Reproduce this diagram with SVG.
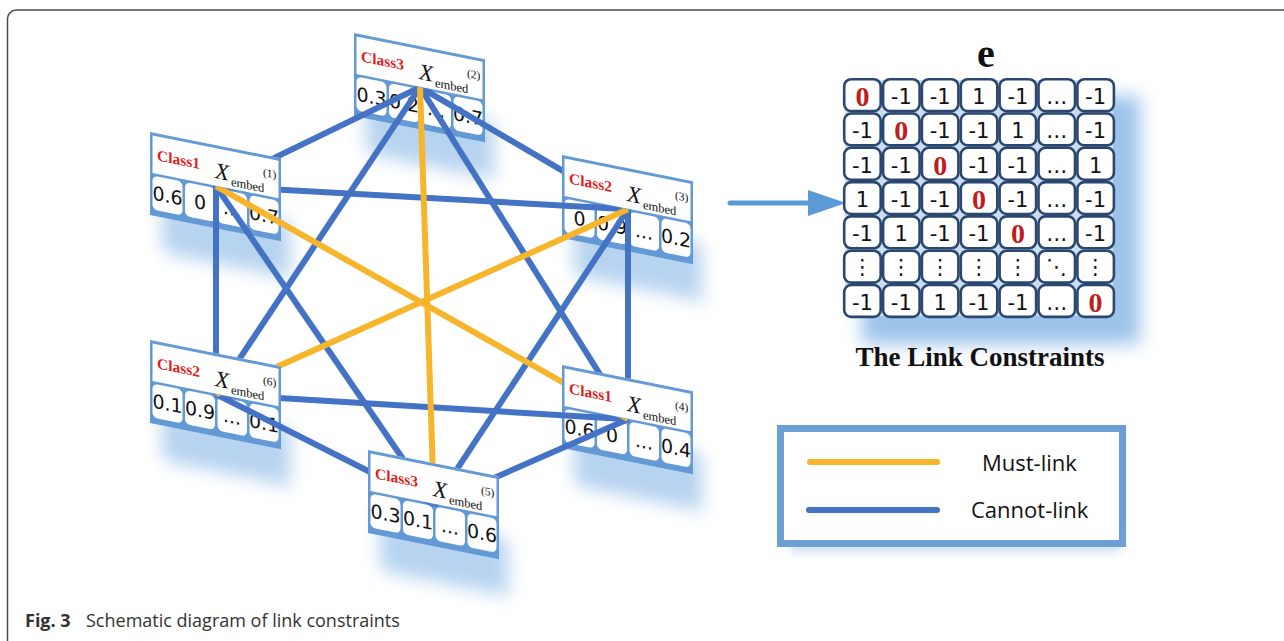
<svg xmlns="http://www.w3.org/2000/svg" width="1284" height="641" viewBox="0 0 1284 641">
<style>
.frame{fill:none;stroke:#4a4a4a;stroke-width:1.5}
.cbody{fill:#6399d4}
.chead{fill:#ffffff}
.ccell{fill:#ffffff}
.cls{font-family:"Liberation Serif","Times New Roman",serif;font-weight:bold;font-size:15.5px;fill:#e01f1f}
.xe{font-family:"Liberation Serif","Times New Roman",serif;font-style:italic;font-size:23px;fill:#111}
.sub{font-family:"Liberation Serif","Times New Roman",serif;font-size:12.5px;fill:#111}
.sup{font-family:"Liberation Serif","Times New Roman",serif;font-size:11.5px;fill:#111}
.num{font-family:"DejaVu Sans",sans-serif;font-size:19px;fill:#111;text-anchor:middle}
.shadow{fill:#86b6e6;opacity:0.6}
.must{stroke:#f7b52c;stroke-width:6;fill:none}
.cannot{stroke:#4472c4;stroke-width:6;fill:none}
.mcell{fill:#ffffff;stroke:#2b4770;stroke-width:2.6}
.mt{font-family:"DejaVu Sans",sans-serif;font-size:21px;fill:#111;text-anchor:middle}
.mz{font-family:"Liberation Serif","Times New Roman",serif;font-weight:bold;font-size:28px;fill:#bf1e1e;text-anchor:middle}
.leg{font-family:"Open Sans","Noto Sans",sans-serif;font-size:22px;fill:#111}
.ttl{font-family:"Liberation Serif","Times New Roman",serif;font-weight:bold;fill:#111;text-anchor:middle}
.cap{font-family:"Open Sans","Noto Sans",sans-serif;font-size:18px;fill:#333}
</style>
<defs>
<filter id="blur" x="-50%" y="-50%" width="200%" height="200%"><feGaussianBlur stdDeviation="9"/></filter>
<filter id="blur2" x="-50%" y="-50%" width="200%" height="200%"><feGaussianBlur stdDeviation="5"/></filter>
<g id="cardbase">
<rect class="shadow" x="12" y="60" width="128" height="58" filter="url(#blur)"/>
<rect class="cbody" x="0" y="0" width="131" height="83"/>
<rect class="chead" x="2.5" y="3" width="126" height="37.5"/>
<rect class="ccell" x="2.5" y="43" width="30" height="34" rx="5"/>
<rect class="ccell" x="35" y="43" width="30" height="34" rx="5"/>
<rect class="ccell" x="67.5" y="43" width="29.5" height="34" rx="5"/>
<rect class="ccell" x="99.5" y="43" width="29" height="34" rx="5"/>
</g>
<mask id="hdrmask" maskUnits="userSpaceOnUse" x="0" y="0" width="1284" height="641">
<rect x="0" y="0" width="1284" height="641" fill="#fff"/>
<g fill="#000">
<polygon points="150,132 281,158.2 281,199.2 150,173"/>
<polygon points="354,33 485,59.2 485,100.2 354,74"/>
<polygon points="562,155 693,181.2 693,222.2 562,196"/>
<polygon points="562,365 693,391.2 693,432.2 562,406"/>
<polygon points="368,450 499,476.2 499,517.2 368,491"/>
<polygon points="150,340 281,366.2 281,407.2 150,381"/>
</g>
</mask>
</defs>
<rect class="frame" x="7.5" y="10" width="1300" height="650" rx="9"/>

<g id="node1" transform="translate(150,132) skewY(11.31)">
<use href="#cardbase"/>
<text class="cls" x="7" y="27">Class1</text>
<text class="xe" x="65" y="33">X</text><text class="sub" x="81" y="37.5">embed</text><text class="sup" x="113" y="21.5">(1)</text>
<text class="num" x="17.5" y="67">0.6</text><text class="num" x="50" y="67">0</text><text class="num" x="82" y="67">...</text><text class="num" x="114" y="67">0.7</text>
</g>
<g id="node2" transform="translate(354,33) skewY(11.31)">
<use href="#cardbase"/>
<text class="cls" x="7" y="27">Class3</text>
<text class="xe" x="65" y="33">X</text><text class="sub" x="81" y="37.5">embed</text><text class="sup" x="113" y="21.5">(2)</text>
<text class="num" x="17.5" y="67">0.3</text><text class="num" x="50" y="67">0.2</text><text class="num" x="82" y="67">...</text><text class="num" x="114" y="67">0.7</text>
</g>
<g id="node3" transform="translate(562,155) skewY(11.31)">
<use href="#cardbase"/>
<text class="cls" x="7" y="27">Class2</text>
<text class="xe" x="65" y="33">X</text><text class="sub" x="81" y="37.5">embed</text><text class="sup" x="113" y="21.5">(3)</text>
<text class="num" x="17.5" y="67">0</text><text class="num" x="50" y="67">0.9</text><text class="num" x="82" y="67">...</text><text class="num" x="114" y="67">0.2</text>
</g>
<g id="node4" transform="translate(562,365) skewY(11.31)">
<use href="#cardbase"/>
<text class="cls" x="7" y="27">Class1</text>
<text class="xe" x="65" y="33">X</text><text class="sub" x="81" y="37.5">embed</text><text class="sup" x="113" y="21.5">(4)</text>
<text class="num" x="17.5" y="67">0.6</text><text class="num" x="50" y="67">0</text><text class="num" x="82" y="67">...</text><text class="num" x="114" y="67">0.4</text>
</g>
<g id="node6" transform="translate(150,340) skewY(11.31)">
<use href="#cardbase"/>
<text class="cls" x="7" y="27">Class2</text>
<text class="xe" x="65" y="33">X</text><text class="sub" x="81" y="37.5">embed</text><text class="sup" x="113" y="21.5">(6)</text>
<text class="num" x="17.5" y="67">0.1</text><text class="num" x="50" y="67">0.9</text><text class="num" x="82" y="67">...</text><text class="num" x="114" y="67">0.1</text>
</g>
<g id="node5" transform="translate(368,450) skewY(11.31)">
<use href="#cardbase"/>
<text class="cls" x="7" y="27">Class3</text>
<text class="xe" x="65" y="33">X</text><text class="sub" x="81" y="37.5">embed</text><text class="sup" x="113" y="21.5">(5)</text>
<text class="num" x="17.5" y="67">0.3</text><text class="num" x="50" y="67">0.1</text><text class="num" x="82" y="67">...</text><text class="num" x="114" y="67">0.6</text>
</g>

<g id="connectors" mask="url(#hdrmask)">
<line class="cannot" x1="216" y1="186.2" x2="420" y2="87.2"/>
<line class="cannot" x1="216" y1="186.2" x2="628" y2="209.2"/>
<line class="cannot" x1="216" y1="186.2" x2="216" y2="394.2"/>
<line class="cannot" x1="216" y1="186.2" x2="434" y2="504.2"/>
<line class="cannot" x1="420" y1="87.2" x2="628" y2="209.2"/>
<line class="cannot" x1="420" y1="87.2" x2="216" y2="394.2"/>
<line class="cannot" x1="420" y1="87.2" x2="628" y2="419.2"/>
<line class="cannot" x1="628" y1="209.2" x2="628" y2="419.2"/>
<line class="cannot" x1="628" y1="209.2" x2="434" y2="504.2"/>
<line class="cannot" x1="628" y1="419.2" x2="216" y2="394.2"/>
<line class="cannot" x1="628" y1="419.2" x2="434" y2="504.2"/>
<line class="cannot" x1="216" y1="394.2" x2="434" y2="504.2"/>
<line class="must" x1="216" y1="186.2" x2="628" y2="419.2"/>
<line class="must" x1="628" y1="209.2" x2="216" y2="394.2"/>
<line class="must" x1="420" y1="87.2" x2="434" y2="504.2"/>
</g>

<g id="arrow">
<line x1="730" y1="203" x2="812" y2="203" stroke="#5b9bd5" stroke-width="5" stroke-linecap="round"/>
<polygon points="808,190 846,203 808,216" fill="#5b9bd5"/>
</g>

<g id="matrix">
<text class="ttl" x="986" y="67" font-size="40">e</text>
<rect x="862" y="96" width="278" height="248" fill="#9cc3ea" filter="url(#blur)"/>
<rect x="845" y="80" width="268" height="236" fill="#c9def2"/>
<g id="mcells">
<rect class="mcell" x="844.2" y="79.2" width="36.5" height="31.9" rx="7"/><rect class="mcell" x="883.1" y="79.2" width="36.5" height="31.9" rx="7"/><rect class="mcell" x="921.9" y="79.2" width="36.5" height="31.9" rx="7"/><rect class="mcell" x="960.8" y="79.2" width="36.5" height="31.9" rx="7"/><rect class="mcell" x="999.6" y="79.2" width="36.5" height="31.9" rx="7"/><rect class="mcell" x="1038.5" y="79.2" width="36.5" height="31.9" rx="7"/><rect class="mcell" x="1077.4" y="79.2" width="36.5" height="31.9" rx="7"/>
<rect class="mcell" x="844.2" y="113.5" width="36.5" height="31.9" rx="7"/><rect class="mcell" x="883.1" y="113.5" width="36.5" height="31.9" rx="7"/><rect class="mcell" x="921.9" y="113.5" width="36.5" height="31.9" rx="7"/><rect class="mcell" x="960.8" y="113.5" width="36.5" height="31.9" rx="7"/><rect class="mcell" x="999.6" y="113.5" width="36.5" height="31.9" rx="7"/><rect class="mcell" x="1038.5" y="113.5" width="36.5" height="31.9" rx="7"/><rect class="mcell" x="1077.4" y="113.5" width="36.5" height="31.9" rx="7"/>
<rect class="mcell" x="844.2" y="147.8" width="36.5" height="31.9" rx="7"/><rect class="mcell" x="883.1" y="147.8" width="36.5" height="31.9" rx="7"/><rect class="mcell" x="921.9" y="147.8" width="36.5" height="31.9" rx="7"/><rect class="mcell" x="960.8" y="147.8" width="36.5" height="31.9" rx="7"/><rect class="mcell" x="999.6" y="147.8" width="36.5" height="31.9" rx="7"/><rect class="mcell" x="1038.5" y="147.8" width="36.5" height="31.9" rx="7"/><rect class="mcell" x="1077.4" y="147.8" width="36.5" height="31.9" rx="7"/>
<rect class="mcell" x="844.2" y="182.1" width="36.5" height="31.9" rx="7"/><rect class="mcell" x="883.1" y="182.1" width="36.5" height="31.9" rx="7"/><rect class="mcell" x="921.9" y="182.1" width="36.5" height="31.9" rx="7"/><rect class="mcell" x="960.8" y="182.1" width="36.5" height="31.9" rx="7"/><rect class="mcell" x="999.6" y="182.1" width="36.5" height="31.9" rx="7"/><rect class="mcell" x="1038.5" y="182.1" width="36.5" height="31.9" rx="7"/><rect class="mcell" x="1077.4" y="182.1" width="36.5" height="31.9" rx="7"/>
<rect class="mcell" x="844.2" y="216.4" width="36.5" height="31.9" rx="7"/><rect class="mcell" x="883.1" y="216.4" width="36.5" height="31.9" rx="7"/><rect class="mcell" x="921.9" y="216.4" width="36.5" height="31.9" rx="7"/><rect class="mcell" x="960.8" y="216.4" width="36.5" height="31.9" rx="7"/><rect class="mcell" x="999.6" y="216.4" width="36.5" height="31.9" rx="7"/><rect class="mcell" x="1038.5" y="216.4" width="36.5" height="31.9" rx="7"/><rect class="mcell" x="1077.4" y="216.4" width="36.5" height="31.9" rx="7"/>
<rect class="mcell" x="844.2" y="250.7" width="36.5" height="31.9" rx="7"/><rect class="mcell" x="883.1" y="250.7" width="36.5" height="31.9" rx="7"/><rect class="mcell" x="921.9" y="250.7" width="36.5" height="31.9" rx="7"/><rect class="mcell" x="960.8" y="250.7" width="36.5" height="31.9" rx="7"/><rect class="mcell" x="999.6" y="250.7" width="36.5" height="31.9" rx="7"/><rect class="mcell" x="1038.5" y="250.7" width="36.5" height="31.9" rx="7"/><rect class="mcell" x="1077.4" y="250.7" width="36.5" height="31.9" rx="7"/>
<rect class="mcell" x="844.2" y="285.0" width="36.5" height="31.9" rx="7"/><rect class="mcell" x="883.1" y="285.0" width="36.5" height="31.9" rx="7"/><rect class="mcell" x="921.9" y="285.0" width="36.5" height="31.9" rx="7"/><rect class="mcell" x="960.8" y="285.0" width="36.5" height="31.9" rx="7"/><rect class="mcell" x="999.6" y="285.0" width="36.5" height="31.9" rx="7"/><rect class="mcell" x="1038.5" y="285.0" width="36.5" height="31.9" rx="7"/><rect class="mcell" x="1077.4" y="285.0" width="36.5" height="31.9" rx="7"/>
</g>
<g id="mtext">
<text class="mz" x="862.4" y="106">0</text><text class="mt" x="901.3" y="104">-1</text><text class="mt" x="940.2" y="104">-1</text><text class="mt" x="979" y="104">1</text><text class="mt" x="1017.9" y="104">-1</text><text class="mt" x="1056.7" y="104">…</text><text class="mt" x="1095.6" y="104">-1</text>
<text class="mt" x="862.4" y="138.3">-1</text><text class="mz" x="901.3" y="140.3">0</text><text class="mt" x="940.2" y="138.3">-1</text><text class="mt" x="979" y="138.3">-1</text><text class="mt" x="1017.9" y="138.3">1</text><text class="mt" x="1056.7" y="138.3">…</text><text class="mt" x="1095.6" y="138.3">-1</text>
<text class="mt" x="862.4" y="172.6">-1</text><text class="mt" x="901.3" y="172.6">-1</text><text class="mz" x="940.2" y="174.6">0</text><text class="mt" x="979" y="172.6">-1</text><text class="mt" x="1017.9" y="172.6">-1</text><text class="mt" x="1056.7" y="172.6">…</text><text class="mt" x="1095.6" y="172.6">1</text>
<text class="mt" x="862.4" y="206.9">1</text><text class="mt" x="901.3" y="206.9">-1</text><text class="mt" x="940.2" y="206.9">-1</text><text class="mz" x="979" y="208.9">0</text><text class="mt" x="1017.9" y="206.9">-1</text><text class="mt" x="1056.7" y="206.9">…</text><text class="mt" x="1095.6" y="206.9">-1</text>
<text class="mt" x="862.4" y="241.2">-1</text><text class="mt" x="901.3" y="241.2">1</text><text class="mt" x="940.2" y="241.2">-1</text><text class="mt" x="979" y="241.2">-1</text><text class="mz" x="1017.9" y="243.2">0</text><text class="mt" x="1056.7" y="241.2">…</text><text class="mt" x="1095.6" y="241.2">-1</text>
<text class="mt" x="862.4" y="273.5">⋮</text><text class="mt" x="901.3" y="273.5">⋮</text><text class="mt" x="940.2" y="273.5">⋮</text><text class="mt" x="979" y="273.5">⋮</text><text class="mt" x="1017.9" y="273.5">⋮</text><text class="mt" x="1056.7" y="273.5">⋱</text><text class="mt" x="1095.6" y="273.5">⋮</text>
<text class="mt" x="862.4" y="309.8">-1</text><text class="mt" x="901.3" y="309.8">-1</text><text class="mt" x="940.2" y="309.8">1</text><text class="mt" x="979" y="309.8">-1</text><text class="mt" x="1017.9" y="309.8">-1</text><text class="mt" x="1056.7" y="309.8">…</text><text class="mz" x="1095.6" y="311.8">0</text>
</g>
<text class="ttl" x="980" y="366" font-size="27">The Link Constraints</text>
</g>

<g id="legend">
<rect x="790" y="530" width="330" height="22" fill="#a9c8ea" filter="url(#blur2)" opacity="0.6"/>
<rect x="780.5" y="428.5" width="342" height="115" fill="#ffffff" stroke="#6aa0d4" stroke-width="7"/>
<line x1="810" y1="462" x2="937" y2="462" stroke="#f7b52c" stroke-width="6" stroke-linecap="round"/>
<line x1="809" y1="510" x2="937" y2="510" stroke="#4472c4" stroke-width="6" stroke-linecap="round"/>
<text class="leg" x="982" y="471">Must-link</text>
<text class="leg" x="971" y="518">Cannot-link</text>
</g>

<g id="caption">
<text class="cap" x="25" y="627" font-weight="bold" font-size="19.5px" fill="#222">Fig. 3</text>
<text class="cap" x="86" y="627">Schematic diagram of link constraints</text>
</g>
</svg>
